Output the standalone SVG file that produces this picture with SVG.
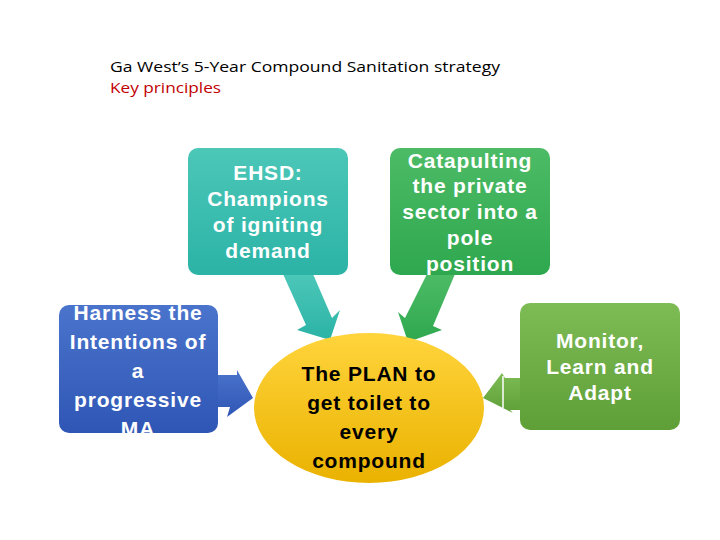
<svg xmlns="http://www.w3.org/2000/svg" width="720" height="540" viewBox="0 0 720 540">
<defs>
<linearGradient id="gT" x1="0" y1="0" x2="0" y2="1"><stop offset="0" stop-color="#4cc7b8"/><stop offset="1" stop-color="#2bb3a6"/></linearGradient>
<linearGradient id="gG" x1="0" y1="0" x2="0" y2="1"><stop offset="0" stop-color="#4dbb66"/><stop offset="1" stop-color="#2ea84f"/></linearGradient>
<linearGradient id="gB" x1="0" y1="0" x2="0" y2="1"><stop offset="0" stop-color="#4a74cc"/><stop offset="1" stop-color="#2f56b5"/></linearGradient>
<linearGradient id="gL" x1="0" y1="0" x2="0" y2="1"><stop offset="0" stop-color="#7dbb55"/><stop offset="1" stop-color="#5f9f38"/></linearGradient>
<linearGradient id="gY" x1="0" y1="0" x2="0" y2="1"><stop offset="0" stop-color="#ffd43c"/><stop offset="1" stop-color="#eab200"/></linearGradient>
<style>
.w{font-family:"Liberation Sans",Arial,sans-serif;font-weight:bold;font-size:21px;letter-spacing:0.8px;fill:#fff;text-anchor:middle}
.k{font-family:"Liberation Sans",Arial,sans-serif;font-weight:bold;font-size:21px;letter-spacing:0.8px;fill:#000;text-anchor:middle}
.t{font-family:"Open Sans","Liberation Sans",sans-serif;font-size:15px}
</style>
</defs>
<rect width="720" height="540" fill="#fff"/>
<text class="t" x="110" y="72" fill="#000" textLength="390" lengthAdjust="spacingAndGlyphs">Ga West’s 5-Year Compound Sanitation strategy</text>
<text class="t" x="110" y="93" fill="#c00000" textLength="111" lengthAdjust="spacingAndGlyphs">Key principles</text>
<g id="connectors">
<polygon points="283,274 313,274 332,318 340,310 330,340 297,330 306,325" fill="url(#gT)"/>
<polygon points="427,274 455,274 433,326 442,330 408,342 398,312 405,318" fill="url(#gG)"/>
<polygon points="216,375 237,375 237,370 253,398 227,417 230,407 216,407" fill="url(#gB)"/>
<polygon points="522,378 505,378 502,373 483,398 513,413 510,410 522,410" fill="url(#gL)"/>
<line x1="503" y1="376" x2="503" y2="408" stroke="#fff" stroke-width="1.5"/>
</g>
<g id="ehsd"><rect x="188" y="148" width="160" height="127" rx="10" fill="url(#gT)"/>
<text class="w" x="268" y="180">EHSD:</text><text class="w" x="268" y="206">Champions</text><text class="w" x="268" y="232">of igniting</text><text class="w" x="268" y="258">demand</text></g>
<g id="catapult"><rect x="390" y="148" width="160" height="127" rx="10" fill="url(#gG)"/>
<text class="w" x="470" y="168">Catapulting</text><text class="w" x="470" y="193">the private</text><text class="w" x="470" y="219">sector into a</text><text class="w" x="470" y="245">pole</text><text class="w" x="470" y="271">position</text></g>
<g id="harness"><rect x="59" y="305" width="159" height="128" rx="10" fill="url(#gB)"/>
<text class="w" x="138" y="320">Harness the</text><text class="w" x="138" y="349">Intentions of</text><text class="w" x="138" y="378">a</text><text class="w" x="138" y="407">progressive</text><text class="w" x="138" y="436">MA</text></g>
<g id="monitor"><rect x="520" y="303" width="160" height="127" rx="10" fill="url(#gL)"/>
<text class="w" x="600" y="348">Monitor,</text><text class="w" x="600" y="374">Learn and</text><text class="w" x="600" y="400">Adapt</text></g>
<g id="plan"><ellipse cx="369" cy="408" rx="115" ry="75" fill="url(#gY)"/>
<text class="k" x="369" y="381">The PLAN to</text><text class="k" x="369" y="410">get toilet to</text><text class="k" x="369" y="439">every</text><text class="k" x="369" y="468">compound</text></g>
</svg>
